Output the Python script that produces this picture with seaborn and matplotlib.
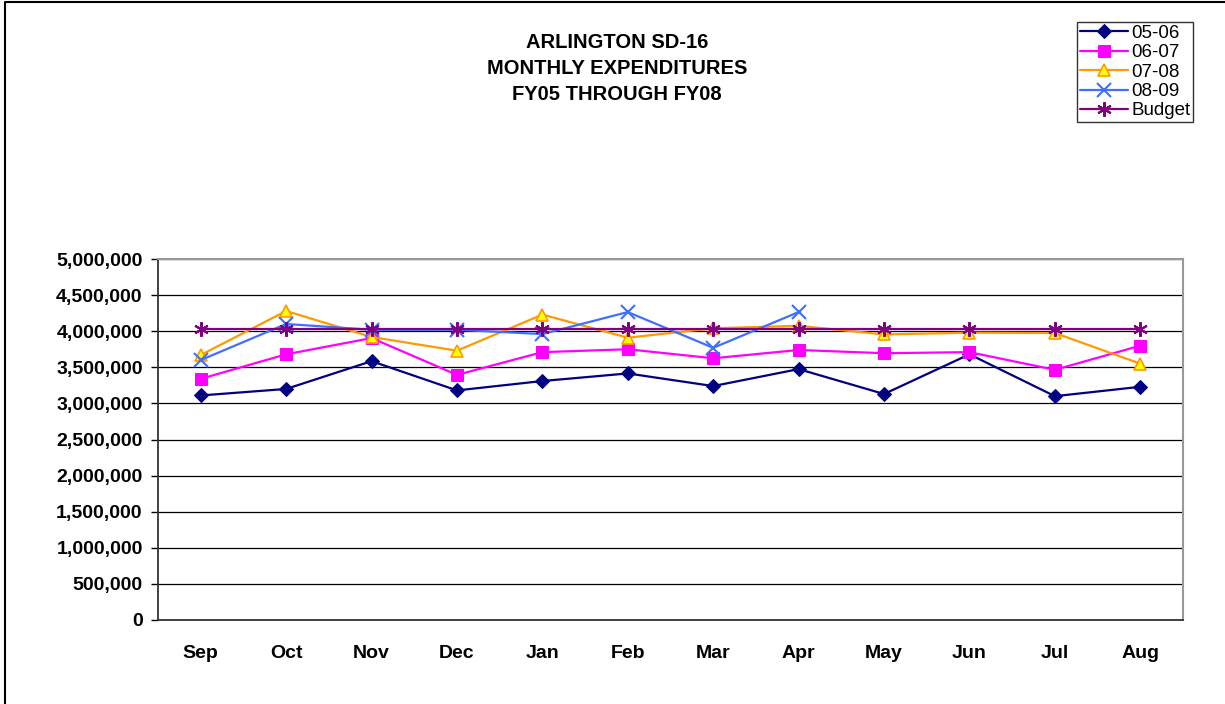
import numpy as np
import pandas as pd
import matplotlib
matplotlib.use("Agg")
import matplotlib.pyplot as plt
import seaborn as sns
from matplotlib.lines import Line2D
from matplotlib.ticker import FuncFormatter, MultipleLocator

# ---- data ----
months = ["Sep", "Oct", "Nov", "Dec", "Jan", "Feb", "Mar", "Apr", "May", "Jun", "Jul", "Aug"]

fy0506 = [3110000, 3200000, 3585000, 3180000, 3310000, 3415000, 3240000, 3475000, 3130000, 3680000, 3100000, 3230000]
fy0607 = [3340000, 3680000, 3905000, 3395000, 3710000, 3750000, 3625000, 3740000, 3695000, 3710000, 3465000, 3800000]
fy0708 = [3670000, 4280000, 3920000, 3730000, 4230000, 3910000, 4040000, 4075000, 3955000, 3980000, 3975000, 3550000]
fy0809 = [3600000, 4100000, 4020000, 4020000, 3960000, 4265000, 3770000, 4265000]
budget = [4030000] * 12

series_names = ["05-06", "06-07", "07-08", "08-09", "Budget"]
series_values = [fy0506, fy0607, fy0708, fy0809, budget]

# ---- styles ----
styles = {
    "05-06": dict(color="#000080", marker="D", markerfacecolor="#000080", markeredgecolor="#000080", markersize=7.5),
    "06-07": dict(color="#FF00FF", marker="s", markerfacecolor="#FF00FF", markeredgecolor="#FF00FF", markersize=8.5),
    "07-08": dict(color="#FF9900", marker="^", markerfacecolor="#FFFF00", markeredgecolor="#FF9900", markersize=9, markeredgewidth=1.2),
    "08-09": dict(color="#3F6FFF", marker="x", markerfacecolor="#3F6FFF", markeredgecolor="#3F6FFF", markersize=9.5, markeredgewidth=1.5),
    "Budget": dict(color="#800080", marker=(6, 2, 0), markerfacecolor="#800080", markeredgecolor="#800080", markersize=10.5, markeredgewidth=1.5),
}

sns.set_theme(style="white")
plt.rcParams["font.family"] = ["Liberation Sans", "DejaVu Sans"]
plt.rcParams["text.color"] = "black"
plt.rcParams["xtick.color"] = "black"
plt.rcParams["ytick.color"] = "black"

fig = plt.figure(figsize=(12.25, 7.04), dpi=100)
ax = fig.add_axes([158 / 1225, 1 - 620 / 704, (1183 - 158) / 1225, (620 - 259) / 704])

for name, vals in zip(series_names, series_values):
    df = pd.DataFrame({"month": months[:len(vals)], "value": vals})
    df["pos"] = [months.index(m) for m in df["month"]]
    sns.lineplot(data=df, x="pos", y="value", ax=ax, label=name, linewidth=1.6,
                 sort=False, **styles[name])

# axes
ax.set_xlim(-0.5, len(months) - 0.5)
ax.set_ylim(0, 5000000)
ax.yaxis.set_major_locator(MultipleLocator(500000))
ax.yaxis.set_major_formatter(FuncFormatter(lambda v, p: f"{int(v):,}"))
ax.set_xticks(range(len(months)))
ax.set_xticklabels(months)
ax.set_xticks(np.arange(-0.5, len(months), 1), minor=True)
ax.tick_params(axis="x", which="major", length=0, pad=18, labelsize=14, labelcolor="black")
ax.tick_params(axis="x", which="minor", length=5, width=1, color="black", direction="out")
ax.tick_params(axis="y", which="major", length=5, width=1, color="black", direction="out", pad=6,
               labelsize=14, labelcolor="black")
ax.tick_params(bottom=True, left=True)
for lab in ax.get_xticklabels() + ax.get_yticklabels():
    lab.set_fontweight("bold")
ax.set_xlabel("")
ax.set_ylabel("")

ax.grid(axis="y", color="black", linewidth=0.9)
ax.set_axisbelow(True)
for side in ["top", "right"]:
    ax.spines[side].set_color("#999999")
    ax.spines[side].set_linewidth(1.5)
for side in ["left", "bottom"]:
    ax.spines[side].set_color("#333333")
    ax.spines[side].set_linewidth(1.3)

# title
fig.text(617 / 1225, 1 - 33 / 704, "ARLINGTON SD-16\nMONTHLY EXPENDITURES\nFY05 THROUGH FY08",
         ha="center", va="top", fontsize=14.5, fontweight="bold", linespacing=1.45, color="black")

# legend
leg = ax.legend(loc="upper right", bbox_to_anchor=(1193 / 1225, 1 - 22 / 704),
                bbox_transform=fig.transFigure, fontsize=13.5, frameon=True,
                fancybox=False, edgecolor="black", labelspacing=0.12,
                handlelength=2.6, handletextpad=0.15, borderpad=0.15, borderaxespad=0)
leg.get_frame().set_linewidth(1.0)
for t in leg.get_texts():
    t.set_color("black")

# figure border (left and top)
fig.add_artist(Line2D([5 / 1225, 5 / 1225, 1], [0, 1 - 2 / 704, 1 - 2 / 704],
                      transform=fig.transFigure, color="black", linewidth=1.5))

fig.savefig("out.png", dpi=100)
